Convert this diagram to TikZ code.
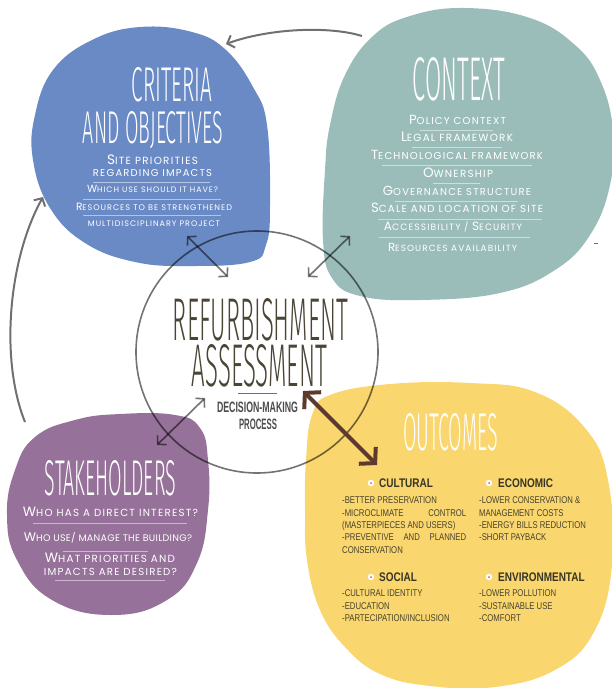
\documentclass[tikz,border=0pt]{standalone}
\usepackage{fontspec}
\usepackage{graphicx}
\usetikzlibrary{arrows.meta}
\setmainfont{Poppins}
\newfontfamily\itf{Liberation Sans}
\IfFontExistsTF{FiraSans-Light.otf}{\newfontfamily\thinf{FiraSans-Light.otf}}{%
  \IfFontExistsTF{Fira Sans Light}{\newfontfamily\thinf{Fira Sans Light}}{\newcommand\thinf{\sffamily}}}
\definecolor{cblue}{HTML}{6A8AC6}
\definecolor{cteal}{HTML}{9BBDBA}
\definecolor{cpurp}{HTML}{967199}
\definecolor{cyell}{HTML}{FAD66E}
\definecolor{cdark}{HTML}{4A4535}
\definecolor{ctxt}{HTML}{46422F}
\definecolor{cbrown}{HTML}{5D3A2E}
\definecolor{cgray}{HTML}{707070}
\definecolor{cred}{HTML}{D9534F}
\newcommand\sct{\fontsize{8}{9}\selectfont\addfontfeature{LetterSpace=12}}
\newcommand\Lg[1]{{\fontsize{10.5}{10}\selectfont #1}}
\newcommand\fw[2]{\resizebox{#1pt}{!}{#2}}
\newcommand\ttlx[3]{\resizebox{#1pt}{#2pt}{\raisebox{0pt}[\height][0pt]{\thinf #3}}}
\newcommand\itm[1]{\scalebox{0.79}[1]{\itf\fontsize{9.8}{10}\selectfont #1}}
\newcommand\hdg[1]{\scalebox{0.8}[1]{\itf\bfseries\fontsize{12.5}{13}\selectfont #1}}
\tikzset{
  ttl/.style={inner sep=0pt, text=white},
  btxt/.style={inner sep=0pt, text=white, anchor=base, font=\sct},
  sepline/.style={draw=white, draw opacity=0.5, line width=0.8pt},
  itxt/.style={inner sep=0pt, anchor=base west, text=ctxt},
  htxt/.style={inner sep=0pt, anchor=base west, text=ctxt!80!black},
  dbl/.style={draw=black, draw opacity=0.55, line width=1.6pt,
    {Straight Barb[length=6pt,width=13pt]}-{Straight Barb[length=6pt,width=13pt]}},
  cyc/.style={draw=cgray, line width=2pt, -{Straight Barb[length=6pt,width=13pt]}},
  bigarr/.style={draw=cbrown, line width=4pt,
    {Straight Barb[length=11pt,width=24pt,sharp]}-{Straight Barb[length=11pt,width=24pt,sharp]}},
  bul/.style={circle, fill=white, inner sep=0pt, minimum size=6.5pt},
  buldot/.style={circle, fill=cred, inner sep=0pt, minimum size=2pt},
}
\begin{document}
\begin{tikzpicture}[x=1pt,y=-1pt]
\useasboundingbox (0,0) rectangle (611,688);
% blobs
\fill[cblue] plot[smooth cycle, tension=0.7] coordinates {
 (140,27) (192,32) (226,50) (253,87) (267,125) (270,205) (266,245) (250,262) (190,266)
 (135,262) (85,243) (50,208) (33,160) (35,115) (53,70) (92,40)};
\fill[cteal] plot[smooth cycle, tension=0.7] coordinates {
 (465,8) (530,18) (575,45) (600,80) (613,130) (610,185) (590,235) (555,270) (500,293)
 (420,300) (360,296) (332,278) (323,240) (325,170) (330,125) (345,75) (373,36) (410,16)};
\fill[cpurp] plot[smooth cycle, tension=0.75] coordinates {
 (75,420) (120,414) (175,415) (200,428) (208,460) (208,510) (197,563) (167,600)
 (112,615) (52,600) (17,560) (7,515) (15,470) (35,437)};
\fill[cyell] plot[smooth cycle, tension=0.7] coordinates {
 (330,395) (390,384) (470,383) (535,392) (585,428) (608,480) (612,565) (594,632)
 (555,670) (495,687) (430,686) (380,674) (345,647) (320,610) (307,560) (305,510) (306,460) (312,415)};
% center circle
\node[circle, draw=black, draw opacity=0.55, line width=1.6pt, minimum size=242pt] (ctr) at (257,352) {};
% cycle arrows
\coordinate (tA) at (362,36);
\coordinate (tB) at (226,44);
\draw[cyc] (tA) .. controls (330,26) and (270,28) .. (tB);
\coordinate (lA) at (25,422);
\coordinate (lB) at (43,197);
\draw[cyc] (lA) .. controls (0,360) and (8,260) .. (lB);
% double arrows
\coordinate (crA) at (187,236);
\coordinate (crB) at (228,277);
\draw[dbl] (crA) -- (crB);
\coordinate (coA) at (350,236);
\coordinate (coB) at (308,277);
\draw[dbl] (coA) -- (coB);
\coordinate (stA) at (205,398);
\coordinate (stB) at (157,445);
\draw[dbl] (stA) -- (stB);
\coordinate (ouA) at (303,391);
\coordinate (ouB) at (377,465);
\draw[bigarr] (ouA) -- (ouB);
% small mark
\draw[cgray, line width=1pt] (594,243) -- (598,243);
% center titles
\node[inner sep=0pt, text=cdark] (ref1) at (260.5,319.5) {\ttlx{175}{42}{REFURBISHMENT}};
\node[inner sep=0pt, text=cdark] (ref2) at (259.5,365.5) {\ttlx{135}{42}{ASSESSMENT}};
\draw[draw=cgray, line width=1pt] (238,393) -- (277,393);
\node[inner sep=0pt, text=black!70] (dm1) at (257.5,407) {\resizebox{81pt}{10.5pt}{\itf\bfseries DECISION-MAKING}};
\node[inner sep=0pt, text=black!70] (dm2) at (258,424) {\resizebox{38pt}{10.5pt}{\itf\bfseries PROCESS}};
% criteria
\node[ttl] (cr1) at (172,84.5) {\ttlx{80}{34}{CRITERIA}};
\node[ttl] (cr2) at (153,127.5) {\ttlx{140}{32}{AND OBJECTIVES}};
\node[btxt] (cr3) at (152.5,164.5) {\fw{91}{\Lg{S}ITE PRIORITIES}};
\node[btxt] (cr4) at (152.5,176) {\fw{119}{REGARDING IMPACTS}};
\draw[sepline] (93,182) -- (210,182);
\node[btxt] (cr5) at (152.5,192.5) {\fw{131}{\Lg{W}HICH USE SHOULD IT HAVE?}};
\draw[sepline] (83,199) -- (221,199);
\node[btxt] (cr6) at (154,210.5) {\fw{156}{\Lg{R}ESOURCES TO BE STRENGTHENED}};
\draw[sepline] (83,215) -- (221,215);
\node[btxt] (cr7) at (154,226.5) {\fw{132}{MULTIDISCIPLINARY PROJECT}};
% context
\node[ttl] (co1) at (459,78.5) {\ttlx{92}{43}{CONTEXT}};
\node[btxt] (co2) at (457.5,124.5) {\fw{97}{\Lg{P}OLICY CONTEXT}};
\draw[sepline] (420,130) -- (493,130);
\node[btxt] (co3) at (457,141.5) {\fw{112}{\Lg{L}EGAL FRAMEWORK}};
\draw[sepline] (412,147) -- (502,147);
\node[btxt] (co4) at (457,159.5) {\fw{172}{\Lg{T}ECHNOLOGICAL FRAMEWORK}};
\draw[sepline] (382,165) -- (532,165);
\node[btxt] (co5) at (458,177.5) {\fw{70}{\Lg{O}WNERSHIP}};
\draw[sepline] (433,183) -- (480,183);
\node[btxt] (co6) at (457,195.5) {\fw{148}{\Lg{G}OVERNANCE STRUCTURE}};
\draw[sepline] (395,201) -- (518,201);
\node[btxt] (co7) at (457,212.5) {\fw{172}{\Lg{S}CALE AND LOCATION OF SITE}};
\draw[sepline] (378,219) -- (542,219);
\node[btxt] (co8) at (453,230.5) {\fw{138}{\Lg{A}CCESSIBILITY / \Lg{S}ECURITY}};
\draw[sepline] (379,237) -- (530,237);
\node[btxt] (co9) at (452.5,251.5) {\fw{129}{\Lg{R}ESOURCES AVAILABILITY}};
% stakeholders
\node[ttl] (sh1) at (110.5,477.5) {\ttlx{131}{35}{STAKEHOLDERS}};
\node[btxt] (sh2) at (110.5,516.5) {\fw{175}{\Lg{W}HO HAS A DIRECT INTEREST?}};
\draw[sepline] (33,523) -- (187,523);
\node[btxt] (sh3) at (108,541.5) {\fw{168}{\addfontfeature{LetterSpace=3}\Lg{W}HO USE/ MANAGE THE BUILDING?}};
\draw[sepline] (63,551) -- (148,551);
\node[btxt] (sh4) at (110,562.5) {\fw{130}{\Lg{W}HAT PRIORITIES AND}};
\node[btxt] (sh5) at (110.5,575) {\fw{133}{IMPACTS ARE DESIRED?}};
\draw[sepline] (55,580) -- (165,580);
% outcomes
\node[ttl] (ou1) at (450.5,431.5) {\ttlx{95}{37}{OUTCOMES}};
\node[bul] (b1) at (371,483) {};
\node[buldot] at (b1) {};
\node[htxt] (h1) at (379,487.5) {\hdg{CULTURAL}};
\node[bul] (b2) at (489,483) {};
\node[buldot] at (b2) {};
\node[htxt] (h2) at (498,487.5) {\hdg{ECONOMIC}};
\node[bul] (b3) at (371,577) {};
\node[buldot] at (b3) {};
\node[htxt] (h3) at (379,581.5) {\hdg{SOCIAL}};
\node[bul] (b4) at (489,577) {};
\node[buldot] at (b4) {};
\node[htxt] (h4) at (498,581.5) {\hdg{ENVIRONMENTAL}};
% cultural items
\node[itxt] (c1) at (342,503.5) {\itm{-BETTER PRESERVATION}};
\node[itxt] (c2) at (342,516.2) {\itm{\makebox[157pt][l]{-MICROCLIMATE\hfill CONTROL}}};
\node[itxt] (c3) at (342,528.5) {\itm{(MASTERPIECES AND USERS)}};
\node[itxt] (c4) at (342,540.8) {\itm{\makebox[157pt][l]{-PREVENTIVE\hfill AND\hfill PLANNED}}};
\node[itxt] (c5) at (342,553.5) {\itm{CONSERVATION}};
% economic items
\node[itxt] (e1) at (479,503.5) {\itm{-LOWER CONSERVATION \&}};
\node[itxt] (e2) at (479,516.2) {\itm{MANAGEMENT COSTS}};
\node[itxt] (e3) at (479,528.5) {\itm{-ENERGY BILLS REDUCTION}};
\node[itxt] (e4) at (479,540.8) {\itm{-SHORT PAYBACK}};
% social items
\node[itxt] (s1) at (342,596.2) {\itm{-CULTURAL IDENTITY}};
\node[itxt] (s2) at (342,609.2) {\itm{-EDUCATION}};
\node[itxt] (s3) at (342,621.5) {\itm{-PARTECIPATION/INCLUSION}};
% environmental items
\node[itxt] (v1) at (479,596.2) {\itm{-LOWER POLLUTION}};
\node[itxt] (v2) at (479,609.2) {\itm{-SUSTAINABLE USE}};
\node[itxt] (v3) at (479,621.5) {\itm{-COMFORT}};
\end{tikzpicture}
\end{document}
